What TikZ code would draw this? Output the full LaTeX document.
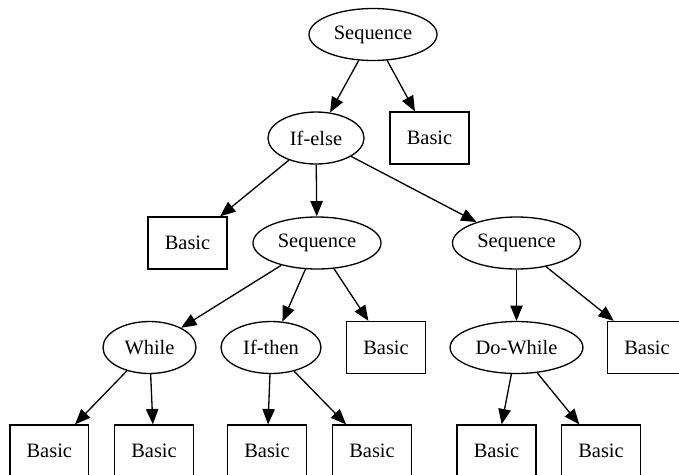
\documentclass[tikz,border=0pt]{standalone}
\usepackage{fontspec}
\setmainfont{Liberation Serif}
\usetikzlibrary{shapes.geometric,arrows.meta}
\begin{document}
\begin{tikzpicture}[x=0.685pt,y=-0.685pt,
  base/.style={draw,line width=0.9pt,inner sep=0pt,font=\fontsize{14}{16}\selectfont},
  ell/.style={base,ellipse,minimum height=35.6pt},
  box/.style={base,rectangle,minimum width=54pt,minimum height=35.6pt},
  edge/.style={line width=0.9pt,-{Triangle[length=10.5pt,width=8.5pt]}}]
\useasboundingbox (0,0) rectangle (679,474);
\clip (0,0) rectangle (679,474);
\node[ell,minimum width=87.7pt] (seq0) at (373,34.5) {Sequence};
\node[box] (b0) at (429.5,138) {Basic};
\node[ell,minimum width=65.8pt] (ifelse) at (316,138) {If-else};
\node[box] (b1) at (187.5,243) {Basic};
\node[ell,minimum width=87.7pt] (seq1) at (317,243) {Sequence};
\node[ell,minimum width=87.7pt] (seq2) at (516.5,243) {Sequence};
\node[ell,minimum width=63.7pt] (while) at (149.5,347.5) {While};
\node[ell,minimum width=68.5pt] (ifthen) at (271,347.5) {If-then};
\node[box] (b2) at (386,347.5) {Basic};
\node[ell,minimum width=91pt] (dowhile) at (516.5,347.5) {Do-While};
\node[box] (b3) at (647,347.5) {Basic};
\node[box] (c1) at (49.3,451) {Basic};
\node[box] (c2) at (154,451) {Basic};
\node[box] (c3) at (267,451) {Basic};
\node[box] (c4) at (372,451) {Basic};
\node[box] (c5) at (496.5,451) {Basic};
\node[box] (c6) at (601,451) {Basic};
\draw[edge] (seq0) -- (ifelse);
\draw[edge] (seq0) -- (b0);
\draw[edge] (ifelse) -- (b1);
\draw[edge] (ifelse) -- (seq1);
\draw[edge] (ifelse) -- (seq2);
\draw[edge] (seq1) -- (while);
\draw[edge] (seq1) -- (ifthen);
\draw[edge] (seq1) -- (b2);
\draw[edge] (seq2) -- (dowhile);
\draw[edge] (seq2) -- (b3);
\draw[edge] (while) -- (c1);
\draw[edge] (while) -- (c2);
\draw[edge] (ifthen) -- (c3);
\draw[edge] (ifthen) -- (c4);
\draw[edge] (dowhile) -- (c5);
\draw[edge] (dowhile) -- (c6);
\end{tikzpicture}
\end{document}
